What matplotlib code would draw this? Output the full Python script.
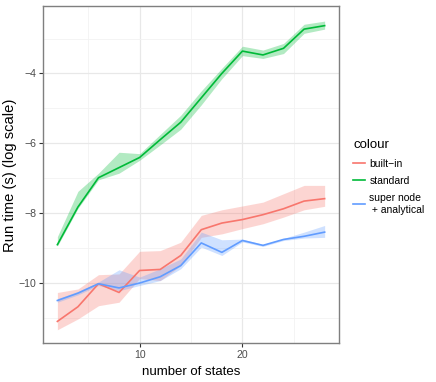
import numpy as np
import matplotlib.pyplot as plt
from matplotlib.lines import Line2D

plt.rcParams['font.family'] = ['Liberation Sans', 'DejaVu Sans']

# number of states
states = [2, 4, 6, 8, 10, 12, 14, 16, 18, 20, 22, 24, 26, 28]

# log run time: mean, lower and upper of ribbon
builtin = [-11.11, -10.69, -10.03, -10.28, -9.65, -9.62, -9.22, -8.48, -8.29, -8.19, -8.05, -7.88, -7.66, -7.59]
builtin_lo = [-11.35, -11.04, -10.66, -10.56, -9.88, -9.94, -9.51, -8.70, -8.60, -8.45, -8.31, -8.12, -7.91, -7.81]
builtin_hi = [-10.28, -10.18, -9.77, -9.75, -9.10, -9.08, -8.84, -8.07, -7.91, -7.80, -7.69, -7.45, -7.21, -7.21]

standard = [-8.91, -7.83, -6.99, -6.70, -6.41, -5.90, -5.40, -4.70, -4.00, -3.36, -3.47, -3.28, -2.73, -2.63]
standard_lo = [-8.95, -7.87, -7.05, -6.86, -6.49, -6.05, -5.60, -4.90, -4.15, -3.49, -3.57, -3.43, -2.85, -2.73]
standard_hi = [-8.68, -7.38, -6.86, -6.26, -6.30, -5.75, -5.20, -4.50, -3.85, -3.22, -3.33, -3.14, -2.59, -2.50]

supernode = [-10.51, -10.30, -10.03, -10.15, -10.01, -9.83, -9.51, -8.86, -9.13, -8.79, -8.93, -8.76, -8.67, -8.55]
supernode_lo = [-10.56, -10.35, -10.08, -10.23, -10.08, -9.94, -9.60, -8.98, -9.22, -8.83, -8.96, -8.79, -8.72, -8.70]
supernode_hi = [-10.46, -10.25, -9.98, -9.63, -9.84, -9.60, -9.32, -8.55, -8.77, -8.75, -8.90, -8.73, -8.55, -8.36]

labels = ['built\u2212in', 'standard', 'super node\n + analytical']
colors = ['#F8766D', '#00BA38', '#619CFF']

fig = plt.figure(figsize=(4.36, 3.82), dpi=100)
ax = fig.add_axes([0.0986, 0.102, 0.679, 0.882])

series = [(builtin, builtin_lo, builtin_hi), (standard, standard_lo, standard_hi),
          (supernode, supernode_lo, supernode_hi)]
for (m, lo, hi), c in zip(series, colors):
    ax.fill_between(states, lo, hi, color=c, alpha=0.3, linewidth=0, zorder=2)
for (m, lo, hi), c in zip(series, colors):
    ax.plot(states, m, color=c, linewidth=1.2, zorder=3)

ax.set_xlim(0.6, 29.4)
ax.set_ylim(-11.73, -2.07)
ax.set_xticks([10, 20])
ax.set_xticks([5, 15, 25], minor=True)
ax.set_yticks([-10, -8, -6, -4])
ax.set_yticks([-11, -9, -7, -5, -3], minor=True)
ax.grid(which='major', color='#E8E8E8', linewidth=0.9, zorder=0)
ax.grid(which='minor', color='#F2F2F2', linewidth=0.6, zorder=0)
ax.set_axisbelow(True)
ax.tick_params(which='major', length=3, width=0.8, color='#333333', labelsize=7.6,
               labelcolor='#4D4D4D', pad=2)
ax.tick_params(which='minor', length=0)
for s in ax.spines.values():
    s.set_color('#7F7F7F')
    s.set_linewidth(1.0)

ax.set_xlabel('number of states', fontsize=9.5, labelpad=4)
ax.set_ylabel('Run time (s) (log scale)', fontsize=10.6)
ax.yaxis.set_label_coords(-0.088, 0.498)

handles = [Line2D([0], [0], color=c, linewidth=1.2) for c in colors]
leg = fig.legend(handles, labels, title='colour', loc='upper left',
                 bbox_to_anchor=(0.81, 0.635), frameon=False, fontsize=7.5,
                 title_fontsize=9.5, handlelength=1.15, handletextpad=0.4,
                 labelspacing=0.7, borderaxespad=0, borderpad=0)
leg._legend_box.align = 'left'

fig.savefig('out.png', dpi=100)
